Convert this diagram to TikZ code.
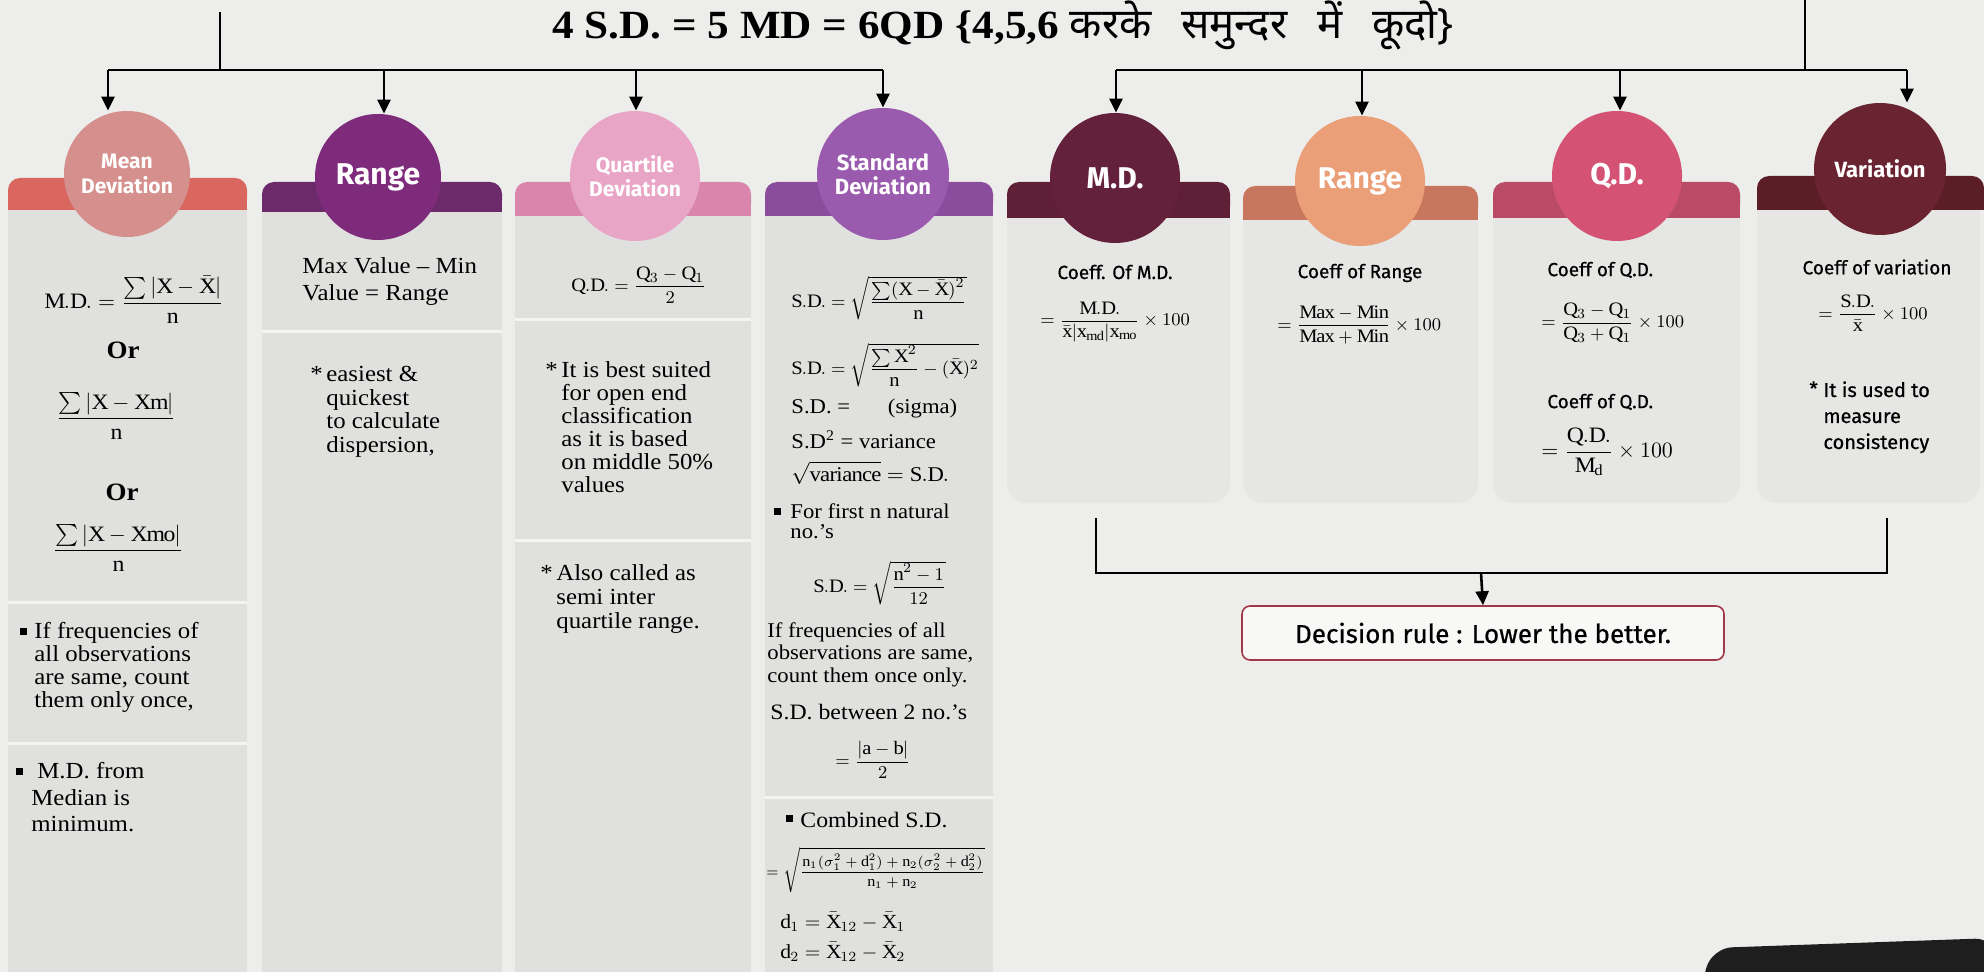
\documentclass[tikz,border=0pt]{standalone}
\usepackage{amsmath}
\usepackage{fontspec}
\setmainfont{Liberation Serif}[FakeStretch=1.08]
\newfontfamily\hdfont{Fira Sans}
\newfontfamily\medfont{Fira Sans}[FakeBold=0.6]
\newfontfamily\devfont{Noto Sans}[Script=Devanagari]
\usetikzlibrary{arrows.meta}
\definecolor{pagebg}{HTML}{EDEDEB}
\definecolor{bodybg}{HTML}{E0E0DE}
\definecolor{bodybgR}{HTML}{E6E6E4}
\definecolor{sepc}{HTML}{F4F4F2}
\definecolor{bandA}{HTML}{D9675F}\definecolor{circA}{HTML}{D58F8C}
\definecolor{bandB}{HTML}{6D2A6A}\definecolor{circB}{HTML}{7E2B7B}
\definecolor{bandC}{HTML}{DA85AB}\definecolor{circC}{HTML}{E8A5C6}
\definecolor{bandD}{HTML}{8A4C9C}\definecolor{circD}{HTML}{9A5AAE}
\definecolor{bandE}{HTML}{5F1F36}\definecolor{circE}{HTML}{64213B}
\definecolor{bandF}{HTML}{C9765F}\definecolor{circF}{HTML}{EA9F79}
\definecolor{bandG}{HTML}{BA4B66}\definecolor{circG}{HTML}{D45274}
\definecolor{bandH}{HTML}{5B1E27}\definecolor{circH}{HTML}{6A2431}
\definecolor{decc}{HTML}{A03848}
\definecolor{tabc}{HTML}{1E1E1E}
\newcommand{\bandshape}[6]{% x1,x2,ytop,ymid,ybot,color
  \fill[#6, rounded corners=6pt] (#1,#3) rectangle (#2,#5);
  \fill[#6] (#1,#4) rectangle (#2,#5);}
\newcommand{\bul}{\rule[0.28ex]{3.2pt}{3.2pt}}
\begin{document}
\begin{tikzpicture}[x=0.5pt,y=-0.5pt,
  ln/.style={line width=1.3pt, draw=black},
  arr/.style={ln, -{Triangle[length=7pt,width=6.5pt]}},
  hdr/.style={circle, inner sep=0pt, text=white, align=center},
  sep/.style={line width=1.5pt, draw=sepc},
  st/.style={inner sep=0pt, align=left, font=\fontsize{11.5}{11.5}\selectfont},
  fm/.style={inner sep=0pt, font=\fontsize{9.5}{11}\selectfont},
  fmb/.style={inner sep=0pt, font=\fontsize{11}{12}\selectfont},
  rs/.style={inner sep=0pt, font=\medfont\fontsize{9.5}{13}\selectfont},
]
\useasboundingbox (0,0) rectangle (1984,972);
\fill[pagebg] (0,0) rectangle (1984,972);

% ---------- title ----------
\node[inner sep=0pt] (title) at (1003,25)
  {\fontsize{20}{22}\selectfont\bfseries 4 S.D. = 5 MD = 6QD \{4,5,6{\devfont\mdseries\fontsize{21}{22}\selectfont\ करके\hspace{0.45em} समुन्दर\hspace{0.45em} में\hspace{0.45em} कूदो\}}};

% ---------- column bodies ----------
\fill[bodybg] (8,205) rectangle (247,980);
\fill[bodybg] (262,205) rectangle (502,980);
\fill[bodybg] (515,210) rectangle (751,980);
\fill[bodybg] (765,210) rectangle (993,980);
\fill[bodybgR, rounded corners=10pt] (1007,200) rectangle (1230,503);
\fill[bodybgR, rounded corners=10pt] (1243,200) rectangle (1478,503);
\fill[bodybgR, rounded corners=10pt] (1493,200) rectangle (1740,503);
\fill[bodybgR, rounded corners=10pt] (1757,195) rectangle (1980,503);

% separators
\draw[sep] (8,602) -- (247,602);
\draw[sep] (8,743) -- (247,743);
\draw[sep] (262,332) -- (502,332);
\draw[sep] (515,320) -- (751,320);
\draw[sep] (515,540) -- (751,540);
\draw[sep] (765,797) -- (993,797);

% ---------- header bands ----------
\bandshape{8}{247}{178}{194}{210}{bandA}
\bandshape{262}{502}{182}{197}{212}{bandB}
\bandshape{515}{751}{182}{199}{216}{bandC}
\bandshape{765}{993}{182}{199}{216}{bandD}
\bandshape{1007}{1230}{182}{200}{218}{bandE}
\bandshape{1243}{1478}{186}{203}{220}{bandF}
\bandshape{1493}{1740}{182}{200}{218}{bandG}
\bandshape{1757}{1984}{176}{193}{210}{bandH}

% ---------- header circles ----------
\node[hdr, fill=circA, minimum size=63pt, font=\hdfont\bfseries\fontsize{10.5}{12.5}\selectfont] (c1) at (127,174) {Mean\\Deviation};
\node[hdr, fill=circB, minimum size=63pt, font=\hdfont\bfseries\fontsize{15}{16}\selectfont] (c2) at (378,177) {Range};
\node[hdr, fill=circC, minimum size=65pt, font=\hdfont\bfseries\fontsize{10.5}{12}\selectfont] (c3) at (635,176) {Quartile\\Deviation};
\node[hdr, fill=circD, minimum size=66pt, font=\hdfont\bfseries\fontsize{11}{12}\selectfont] (c4) at (883,174) {Standard\\Deviation};
\node[hdr, fill=circE, minimum size=65pt, font=\hdfont\bfseries\fontsize{15}{16}\selectfont] (c5) at (1115,178) {M.D.};
\node[hdr, fill=circF, minimum size=65pt, font=\hdfont\bfseries\fontsize{15}{16}\selectfont] (c6) at (1360,181) {Range};
\node[hdr, fill=circG, minimum size=65pt, font=\hdfont\bfseries\fontsize{15}{16}\selectfont] (c7) at (1617,176) {Q.D.};
\node[hdr, fill=circH, minimum size=66pt, font=\hdfont\bfseries\fontsize{11}{12}\selectfont] (c8) at (1880,169) {Variation};

% ---------- top connectors ----------
\coordinate (ltop) at (220,12);
\coordinate (lmid) at (220,70);
\coordinate (a1) at (108,70);
\coordinate (a2) at (384,70);
\coordinate (a3) at (636,70);
\coordinate (a4) at (883,70);
\draw[ln] (ltop) -- (lmid);
\draw[ln] (a1) -- (a4);
\draw[arr] (a1) -- (a1 |- c1.north);
\draw[arr] (a2) -- (a2 |- c2.north);
\draw[arr] (a3) -- (a3 |- c3.north);
\draw[arr] (a4) -- (a4 |- c4.north);

\coordinate (rtop) at (1805,0);
\coordinate (rmid) at (1805,70);
\coordinate (b1) at (1116,70);
\coordinate (b2) at (1362,70);
\coordinate (b3) at (1620,70);
\coordinate (b4) at (1907,70);
\draw[ln] (rtop) -- (rmid);
\draw[ln] (b1) -- (b4);
\draw[arr] (b1) -- (b1 |- c5.north);
\draw[arr] (b2) -- (b2 |- c6.north);
\draw[arr] (b3) -- (b3 |- c7.north);
\draw[arr] (b4) -- (b4 |- c8.north);

% ---------- column 1 : Mean Deviation ----------
\node[fmb, anchor=west] (m1) at (44,300) {$\mathrm{M.D.}=\dfrac{\sum|\mathrm{X}-\bar{\mathrm{X}}|}{\mathrm{n}}$};
\node[inner sep=0pt, font=\fontsize{12.5}{13}\selectfont\bfseries] (m2) at (123,350) {Or};
\node[fmb] (m3) at (116,416) {$\dfrac{\sum|\mathrm{X-Xm}|}{\mathrm{n}}$};
\node[inner sep=0pt, font=\fontsize{12.5}{13}\selectfont\bfseries] (m4) at (122,492) {Or};
\node[fmb] (m5) at (118,548) {$\dfrac{\sum|\mathrm{X-Xmo}|}{\mathrm{n}}$};
\node[st, anchor=west] (m6b) at (20,633) {\bul};
\node[st, anchor=north west] (m6) at (34,622) {If frequencies of\\all observations\\are same, count\\them only once,};
\node[st, anchor=west] (m7b) at (16,773) {\bul};
\node[st, anchor=north west, font=\fontsize{11.5}{13.25}\selectfont] (m7) at (31,762) {\hspace{3pt}M.D. from\\Median is\\minimum.};

% ---------- column 2 : Range ----------
\node[st, anchor=north west, font=\fontsize{11.5}{13.5}\selectfont] (r1) at (302,257) {Max Value \textendash{} Min\\Value = Range};
\node[st, anchor=north west] (r2s) at (310,366) {*};
\node[st, anchor=north west, font=\fontsize{11.5}{11.75}\selectfont] (r2) at (326,366) {easiest \&\\quickest\\to calculate\\dispersion,};

% ---------- column 3 : Quartile Deviation ----------
\node[fm, anchor=west] (q1) at (571,285) {$\mathrm{Q.D.}=\dfrac{\mathrm{Q}_3-\mathrm{Q}_1}{2}$};
\node[st, anchor=north west] (q2s) at (545,362) {*};
\node[st, anchor=north west] (q2) at (561,361) {It is best suited\\for open end\\classification\\as it is based\\on middle 50\%\\values};
\node[st, anchor=north west] (q3s) at (540,565) {*};
\node[st, anchor=north west, font=\fontsize{11.5}{12}\selectfont] (q3) at (556,564) {Also called as\\semi inter\\quartile range.};

% ---------- column 4 : Standard Deviation ----------
\node[fm, anchor=west] (s1) at (791,298) {$\mathrm{S.D.}=\sqrt{\dfrac{\sum(\mathrm{X}-\bar{\mathrm{X}})^2}{\mathrm{n}}}$};
\node[fm, anchor=west] (s2) at (791,365) {$\mathrm{S.D.}=\sqrt{\dfrac{\sum\mathrm{X}^2}{\mathrm{n}}-(\bar{\mathrm{X}})^2}$};
\node[st, anchor=west, font=\fontsize{10.5}{11}\selectfont] (s3) at (791,408) {S.D. =\hspace{1.8em}(sigma)};
\node[st, anchor=west, font=\fontsize{10.5}{11}\selectfont] (s4) at (791,440) {S.D\textsuperscript{2} = variance};
\node[fm, anchor=west, font=\fontsize{10.5}{11}\selectfont] (s5) at (791,473) {$\sqrt{\mathrm{variance}}=\mathrm{S.D.}$};
\node[st, anchor=west] (s6b) at (774,513) {\bul};
\node[st, anchor=north west, font=\fontsize{10.5}{10}\selectfont] (s6) at (790,503) {For first n natural\\no.'s};
\node[fm, anchor=west] (s7) at (813,583) {$\mathrm{S.D.}=\sqrt{\dfrac{\mathrm{n}^2-1}{12}}$};
\node[st, anchor=north west, font=\fontsize{10.5}{11.25}\selectfont] (s8) at (767,622) {If frequencies of all\\observations are same,\\count them once only.};
\node[st, anchor=west, font=\fontsize{11}{12}\selectfont] (s9) at (770,712) {S.D. between 2 no.'s};
\node[fm, anchor=west] (s10) at (835,760) {$=\dfrac{|\mathrm{a}-\mathrm{b}|}{2}$};
\node[st, anchor=west] (s11b) at (786,820) {\bul};
\node[st, anchor=west, font=\fontsize{11}{12}\selectfont] (s11) at (800,820) {Combined S.D.};
\node[fm, anchor=west, font=\fontsize{7.5}{9}\selectfont] (s12) at (766,870) {$=\sqrt{\dfrac{\mathrm{n}_1(\sigma_1^2+\mathrm{d}_1^2)+\mathrm{n}_2(\sigma_2^2+\mathrm{d}_2^2)}{\mathrm{n}_1+\mathrm{n}_2}}$};
\node[fm, anchor=west, font=\fontsize{10}{11}\selectfont] (s13) at (780,922) {$\mathrm{d}_1=\bar{\mathrm{X}}_{12}-\bar{\mathrm{X}}_1$};
\node[fm, anchor=west, font=\fontsize{10}{11}\selectfont] (s14) at (780,952) {$\mathrm{d}_2=\bar{\mathrm{X}}_{12}-\bar{\mathrm{X}}_2$};

% ---------- column 5 : M.D. ----------
\node[rs] (e1) at (1115,272) {Coeff. Of M.D.};
\node[fm, anchor=west] (e2) at (1040,322) {$=\dfrac{\mathrm{M.D.}}{\bar{\mathrm{x}}|\mathrm{x}_{\mathrm{md}}|\mathrm{x}_{\mathrm{mo}}}\times 100$};

% ---------- column 6 : Range ----------
\node[rs] (g1) at (1360,273) {Coeff of Range};
\node[fm, anchor=west] (g2) at (1277,325) {$=\dfrac{\mathrm{Max-Min}}{\mathrm{Max+Min}}\times 100$};

% ---------- column 7 : Q.D. ----------
\node[rs, anchor=west] (h1) at (1547,270) {Coeff of Q.D.};
\node[fm, anchor=west] (h2) at (1541,323) {$=\dfrac{\mathrm{Q}_3-\mathrm{Q}_1}{\mathrm{Q}_3+\mathrm{Q}_1}\times 100$};
\node[rs, anchor=west] (h3) at (1547,402) {Coeff of Q.D.};
\node[fm, anchor=west, font=\fontsize{11}{12}\selectfont] (h4) at (1541,452) {$=\dfrac{\mathrm{Q.D.}}{\mathrm{M}_{\mathrm{d}}}\times 100$};

% ---------- column 8 : Variation ----------
\node[rs] (v1) at (1877,267) {Coeff of variation};
\node[fm, anchor=west] (v2) at (1818,313) {$=\dfrac{\mathrm{S.D.}}{\bar{\mathrm{x}}}\times 100$};
\node[rs, anchor=north west] (v3s) at (1809,381) {*};
\node[rs, anchor=north west, align=left, font=\medfont\fontsize{10}{13}\selectfont] (v3) at (1823,381) {It is used to\\measure\\consistency};

% ---------- decision ----------
\coordinate (bl) at (1096,518);
\coordinate (br) at (1887,518);
\coordinate (bm) at (1481,573);
\node[draw=decc, line width=0.8pt, rounded corners=4pt, fill=white!60!pagebg,
      minimum width=241pt, minimum height=27pt,
      font=\medfont\fontsize{13}{15}\selectfont] (dec) at (1483,633) {Decision rule : Lower the better.};
\draw[ln] (bl) |- (bm) -| (br);
\draw[arr] (bm) -- (dec.north);

% ---------- bottom-right tab ----------
\fill[tabc, rounded corners=10pt] (1700,990) -- (1712,948) -- (1995,938) -- (1995,990) -- cycle;
\end{tikzpicture}
\end{document}
